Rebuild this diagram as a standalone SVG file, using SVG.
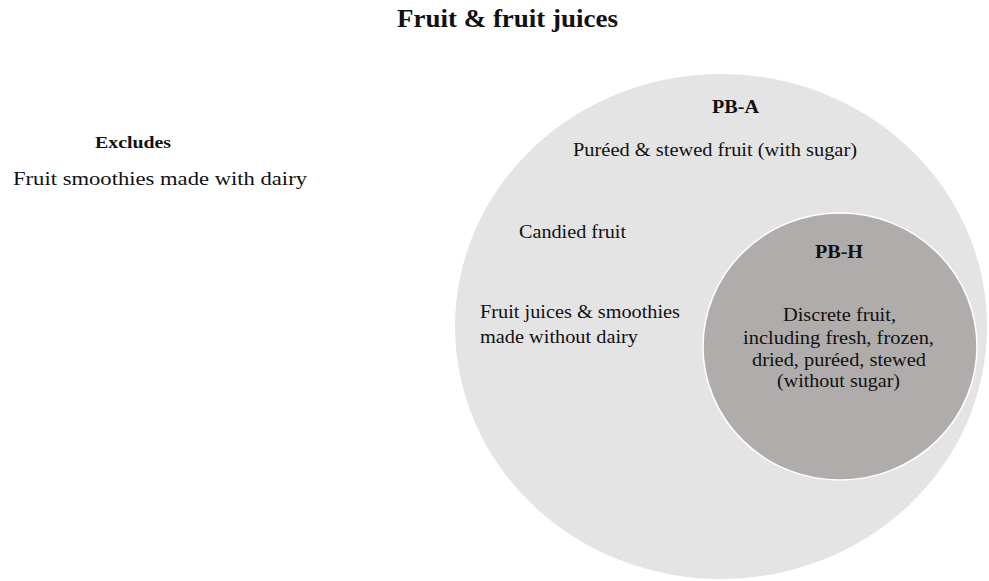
<svg xmlns="http://www.w3.org/2000/svg" width="989" height="581" viewBox="0 0 989 581">
  <style>
    text { font-family: "Liberation Serif", "Times New Roman", serif; fill: #111; }
    .b { font-weight: bold; }
    .t { font-size: 19px; }
    .l { font-size: 19px; }
    .title { font-size: 25px; font-weight: bold; }
    .outer { fill: #e4e4e4; }
    .inner { fill: #b0acab; stroke: #ffffff; stroke-width: 1.5; }
  </style>
  <rect x="0" y="0" width="989" height="581" fill="#ffffff"/>
  <g id="title">
    <text class="title" x="397" y="27" textLength="221" lengthAdjust="spacingAndGlyphs">Fruit &amp; fruit juices</text>
  </g>
  <g id="excludes">
    <text class="l b" x="95" y="148" font-size="17" textLength="76" lengthAdjust="spacingAndGlyphs" style="font-size:17px">Excludes</text>
    <text class="t" x="13" y="185" textLength="294" lengthAdjust="spacingAndGlyphs">Fruit smoothies made with dairy</text>
  </g>
  <g id="pb-a">
    <ellipse class="outer" cx="721" cy="326.5" rx="266" ry="252.5"/>
    <text class="l b" x="712" y="113" textLength="47" lengthAdjust="spacingAndGlyphs">PB-A</text>
    <text class="t" x="573" y="156" textLength="284" lengthAdjust="spacingAndGlyphs">Puréed &amp; stewed fruit (with sugar)</text>
    <text class="t" x="519" y="238" textLength="107" lengthAdjust="spacingAndGlyphs">Candied fruit</text>
    <text class="t" x="480" y="318" textLength="200" lengthAdjust="spacingAndGlyphs">Fruit juices &amp; smoothies</text>
    <text class="t" x="480" y="343" textLength="158" lengthAdjust="spacingAndGlyphs">made without dairy</text>
  </g>
  <g id="pb-h">
    <ellipse class="inner" cx="840" cy="346.5" rx="137" ry="133.5"/>
    <text class="l b" x="815" y="258" textLength="48" lengthAdjust="spacingAndGlyphs">PB-H</text>
    <text class="t" x="783" y="321" textLength="113" lengthAdjust="spacingAndGlyphs">Discrete fruit,</text>
    <text class="t" x="743" y="344" textLength="191" lengthAdjust="spacingAndGlyphs">including fresh, frozen,</text>
    <text class="t" x="752" y="366" textLength="174" lengthAdjust="spacingAndGlyphs">dried, puréed, stewed</text>
    <text class="t" x="777" y="387" textLength="123" lengthAdjust="spacingAndGlyphs">(without sugar)</text>
  </g>
  <g id="connectors"/>
</svg>
